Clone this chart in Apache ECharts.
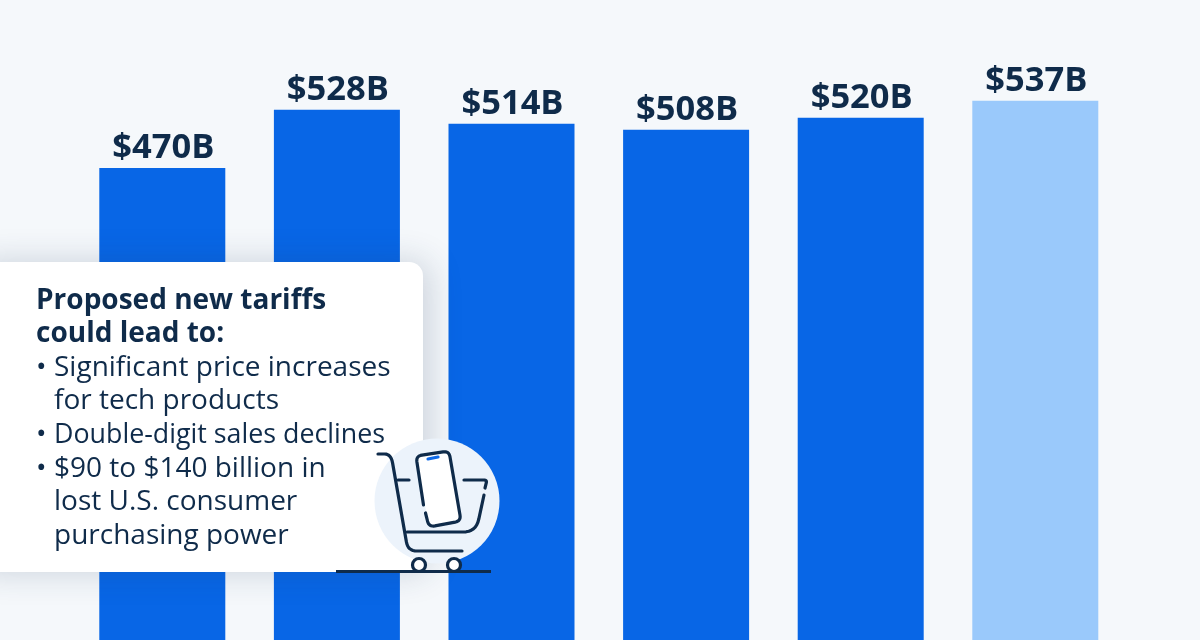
<!DOCTYPE html>
<html>
<head>
<meta charset="utf-8">
<style>
  html, body { margin: 0; padding: 0; background: #f5f8fb; }
  #chart { width: 1200px; height: 640px; }
</style>
<script src="https://cdn.jsdelivr.net/npm/echarts@6/dist/echarts.min.js"></script>
</head>
<body>
<div id="chart"></div>
<script>
const categories = ['A', 'B', 'C', 'D', 'E', 'F'];
const revenue = [470, 528, 514, 508, 520, 537];
const forecastIndex = 5;
const noteTitle = ['Proposed new tariffs', 'could lead to:'];
const noteLines = [
  ['•', 'Significant price increases'],
  ['', 'for tech products'],
  ['•', 'Double-digit sales declines'],
  ['•', '$90 to $140 billion in'],
  ['', 'lost U.S. consumer'],
  ['', 'purchasing power']
];

const INK = '#0f2b4a';
const FONT = '"Open Sans", "Noto Sans", sans-serif';

function noteText() {
  let items = [];
  let y = 300.6;
  noteTitle.forEach(function (line) {
    items.push({
      type: 'text', z: 12, x: 36, y: y,
      style: { text: line, fill: INK, font: '700 28px ' + FONT, verticalAlign: 'middle' }
    });
    y += 33.6;
  });
  noteLines.forEach(function (line, i) {
    if (line[0]) {
      items.push({
        type: 'text', z: 12, x: 36, y: y,
        style: { text: line[0], fill: INK, font: '400 28px ' + FONT, verticalAlign: 'middle' }
      });
    }
    items.push({
      type: 'text', z: 12, x: 54, y: y,
      // the third line is set tighter in the original
      scaleX: i === 2 ? 0.957 : 1,
      style: { text: line[1], fill: INK, font: '400 28px ' + FONT, verticalAlign: 'middle' }
    });
    y += 33.6;
  });
  return items;
}

// corners of a polyline rounded off with small quadratic curves
function rounded(pts, r) {
  let out = [pts[0]];
  for (let i = 1; i < pts.length - 1; i++) {
    let p = pts[i], a = pts[i - 1], b = pts[i + 1];
    let la = Math.hypot(a[0] - p[0], a[1] - p[1]);
    let lb = Math.hypot(b[0] - p[0], b[1] - p[1]);
    let ra = Math.min(r, la / 2), rb = Math.min(r, lb / 2);
    let s = [p[0] + (a[0] - p[0]) * ra / la, p[1] + (a[1] - p[1]) * ra / la];
    let e = [p[0] + (b[0] - p[0]) * rb / lb, p[1] + (b[1] - p[1]) * rb / lb];
    for (let t = 0; t <= 1.001; t += 0.125) {
      let u = 1 - t;
      out.push([u * u * s[0] + 2 * u * t * p[0] + t * t * e[0], u * u * s[1] + 2 * u * t * p[1] + t * t * e[1]]);
    }
  }
  out.push(pts[pts.length - 1]);
  return out;
}

// shopping cart icon
function cartStroke(pts, r, color) {
  return {
    type: 'polyline', z: 15,
    shape: { points: rounded(pts, r) },
    style: { fill: null, stroke: color || INK, lineWidth: 3.2, lineCap: 'round', lineJoin: 'round' }
  };
}

const phone = [[416, 456], [449, 451], [461, 521], [429, 527]];

const cartIcon = [
  { type: 'circle', z: 13, shape: { cx: 437, cy: 501, r: 62.5 }, style: { fill: '#ecf3fb' } },
  { type: 'polygon', z: 14, shape: { points: rounded([[432.5, 453.5], phone[1], phone[2], phone[3], phone[0], [432.5, 453.5]], 6) }, style: { fill: '#ffffff' } },
  cartStroke([[423.5, 505], phone[0], phone[1], phone[2], phone[3], [425.5, 513]], 6),
  cartStroke([[428, 459], [438, 457]], 0, '#0f6ae8'),
  cartStroke([[378, 454], [391, 454], [408, 551], [462, 551]], 9),
  cartStroke([[398, 480], [409, 480]], 0),
  cartStroke([[464, 480], [487, 480], [485, 488]], 3),
  cartStroke([[484, 495], [476, 532], [407, 532]], 13),
  { type: 'circle', z: 15, shape: { cx: 419, cy: 565, r: 6.5 }, style: { fill: '#ffffff', stroke: INK, lineWidth: 3.2 } },
  { type: 'circle', z: 15, shape: { cx: 454, cy: 565, r: 6.5 }, style: { fill: '#ffffff', stroke: INK, lineWidth: 3.2 } },
  { type: 'line', z: 16, shape: { x1: 336, y1: 571.5, x2: 491, y2: 571.5 }, style: { stroke: INK, lineWidth: 3 } }
];

const chart = echarts.init(document.getElementById('chart'));
chart.setOption({
  animation: false,
  backgroundColor: '#f5f8fb',
  grid: { left: 75, right: 77.4, top: 0, bottom: 0 },
  xAxis: { type: 'category', data: categories, show: false },
  yAxis: { type: 'value', min: 0, max: 637.3, show: false },
  series: [
    {
      type: 'bar',
      barWidth: 126,
      data: revenue.map(function (v, i) {
        return { value: v, itemStyle: { color: i === forecastIndex ? '#9ac9fb' : '#0866e6' } };
      }),
      label: {
        show: true,
        position: 'top',
        distance: 2,
        offset: [1, 0],
        color: INK,
        fontFamily: FONT,
        fontWeight: 700,
        fontSize: 34.5,
        formatter: function (p) { return '$' + p.value + 'B'; }
      }
    }
  ],
  graphic: [
    {
      type: 'rect', z: 10,
      shape: { x: -30, y: 262, width: 453, height: 310, r: 14 },
      style: { fill: '#ffffff', shadowBlur: 34, shadowColor: 'rgba(30,55,90,0.2)', shadowOffsetX: 6, shadowOffsetY: 0 }
    }
  ].concat(noteText(), cartIcon)
});
</script>
</body>
</html>
